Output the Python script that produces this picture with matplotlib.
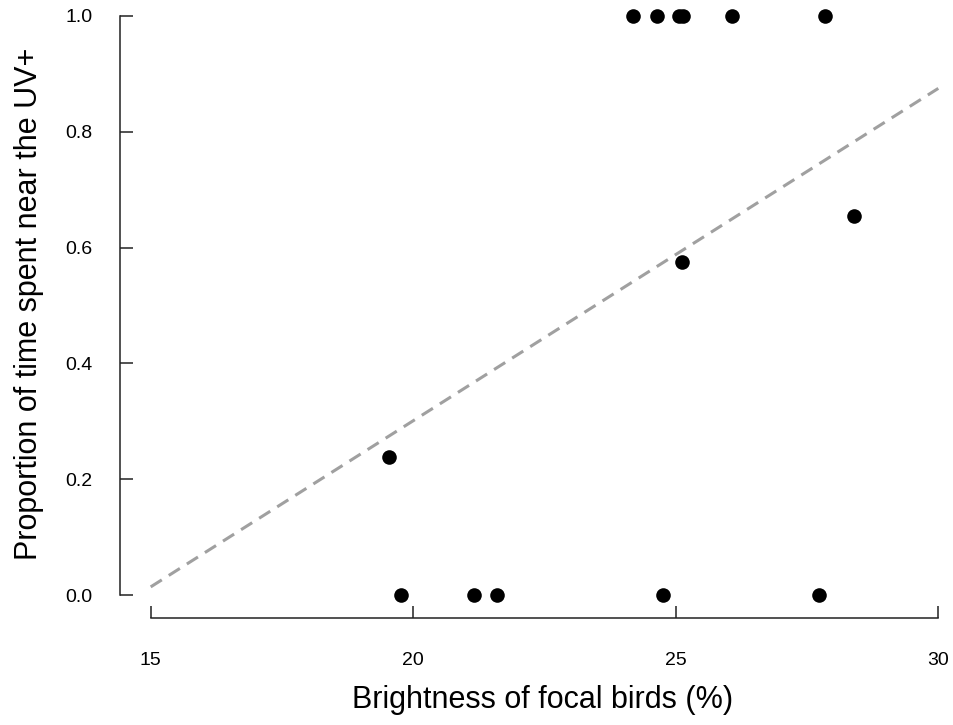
import matplotlib
matplotlib.use("Agg")
import matplotlib.pyplot as plt
import numpy as np

# Data
brightness = [24.19, 24.65, 25.07, 25.13, 26.07, 27.85,
              28.40, 25.11, 19.54,
              19.76, 21.16, 21.60, 24.75, 27.72]
proportion = [1.0, 1.0, 1.0, 1.0, 1.0, 1.0,
              0.655, 0.575, 0.238,
              0.0, 0.0, 0.0, 0.0, 0.0]
# fitted line (intercept, slope)
fit_intercept = -0.847
fit_slope = 0.0574
x_ticks = [15, 20, 25, 30]
y_ticks = [0.0, 0.2, 0.4, 0.6, 0.8, 1.0]
y_ticklabels = ["0.0", "0.2", "0.4", "0.6", "0.8", "1.0"]

plt.rcParams['font.family'] = ['Liberation Sans', 'DejaVu Sans']

W, H = 954, 725
fig = plt.figure(figsize=(W / 100, H / 100), dpi=100)
# axes in pixel geometry
left_px, right_px, top_px, bottom_px = 120, 952, 8, 618
ax = fig.add_axes([left_px / W, 1 - bottom_px / H,
                   (right_px - left_px) / W, (bottom_px - top_px) / H])

ppu_x = (938.3 - 150.7) / 15.0
ppu_y = (595 - 16) / 1.0
ax.set_xlim(15 - (150.7 - left_px) / ppu_x, 30 + (right_px - 938.3) / ppu_x)
ax.set_ylim(0 - (bottom_px - 595) / ppu_y, 1 + (16 - top_px) / ppu_y)

xs = np.array([15, 30])
ax.plot(xs, fit_intercept + fit_slope * xs, color='#a0a0a0', lw=2.2,
        dashes=(4.3, 2.7), solid_capstyle='butt', dash_capstyle='butt', zorder=1)
ax.plot(brightness, proportion, 'o', color='black', markersize=10.5,
        markeredgewidth=0, zorder=2, clip_on=False)

for s in ['top', 'right']:
    ax.spines[s].set_visible(False)
ax.spines['left'].set_bounds(0, 1)
ax.spines['bottom'].set_bounds(15, 30)
for s in ['left', 'bottom']:
    ax.spines[s].set_linewidth(1.1)
    ax.spines[s].set_color('#222222')

ax.set_xticks(x_ticks)
ax.set_yticks(y_ticks)
ax.set_yticklabels(y_ticklabels)
ax.tick_params(axis='x', direction='in', length=9, width=1.1, color='#222222',
               labelsize=14, pad=24.5)
ax.tick_params(axis='y', direction='in', length=9, width=1.1, color='#222222',
               labelsize=14, pad=20)

fig.text(542.5 / W, 1 - 708 / H, 'Brightness of focal birds (%)', fontsize=22,
         ha='center', va='baseline')
fig.text(37 / W, 1 - 304 / H, 'Proportion of time spent near the UV+', fontsize=22,
         rotation=90, rotation_mode='anchor', ha='center', va='baseline')

fig.savefig('out.png', dpi=100)
